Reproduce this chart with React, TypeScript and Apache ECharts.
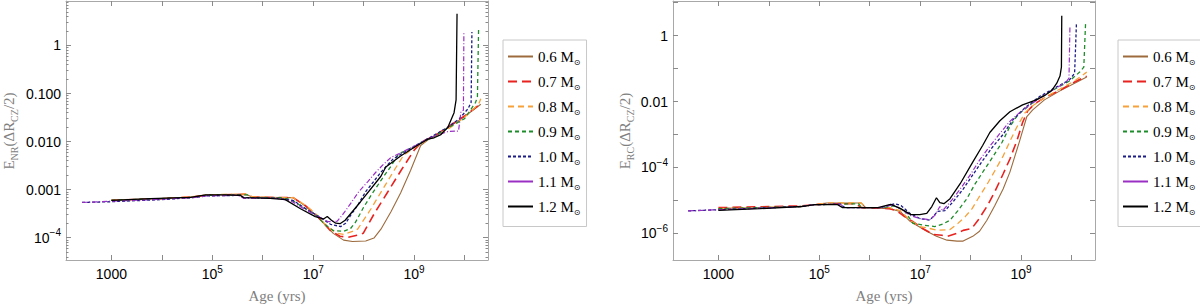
import React, { useEffect, useRef } from 'react';
import * as echarts from 'echarts';

// ---------- data (age in years, E value) ----------
const NAMES = ['0.6 M⊙', '0.7 M⊙', '0.8 M⊙', '0.9 M⊙', '1.0 M⊙', '1.1 M⊙', '1.2 M⊙'];

// Left panel: E_NR
const NR_06 = [[1000,6.0e-4],[1e4,6.5e-4],[4e4,7.0e-4],[7.9e4,7.7e-4],[4.5e5,8.0e-4],[6.3e5,7.0e-4],[2.2e6,6.8e-4],[4e6,6.8e-4],[7.1e6,4.5e-4],[1.1e7,3.0e-4],[2.5e7,1.23e-4],[4e7,8.9e-5],[6e7,8.3e-5],[1.1e8,8.5e-5],[1.6e8,9.8e-5],[2.2e8,1.5e-4],[3.5e8,3.5e-4],[5.4e8,8.5e-4],[8.5e8,2.5e-3],[1.35e9,8.3e-3],[1.95e9,1.12e-2],[2.5e9,1.25e-2],[1e10,3.3e-2],[2.1e10,6.0e-2]];
const NR_07 = [[1000,6.0e-4],[1e4,6.5e-4],[4e4,7.0e-4],[7.9e4,7.7e-4],[4.5e5,8.0e-4],[6.3e5,7.0e-4],[2.2e6,6.8e-4],[4e6,6.8e-4],[7.1e6,4.6e-4],[1.1e7,3.1e-4],[2.2e7,1.4e-4],[3.4e7,1.07e-4],[4.9e7,1.02e-4],[7.4e7,1.12e-4],[9.8e7,1.23e-4],[1.66e8,3.3e-4],[3e8,8.9e-4],[5.5e8,2.5e-3],[1e9,6.6e-3],[1.45e9,1.0e-2],[2.5e9,1.3e-2],[1e10,3.4e-2],[2.1e10,6.2e-2]];
const NR_08 = [[1000,6.0e-4],[1e4,6.5e-4],[4e4,7.1e-4],[7.9e4,7.8e-4],[4.5e5,8.1e-4],[6.3e5,7.1e-4],[2.2e6,6.8e-4],[4e6,6.8e-4],[7.1e6,4.7e-4],[1.1e7,3.2e-4],[1.95e7,1.65e-4],[3e7,1.23e-4],[4e7,1.17e-4],[6e7,1.35e-4],[7.6e7,1.5e-4],[1.4e8,4.0e-4],[2.5e8,1.1e-3],[4e8,2.5e-3],[6.2e8,5.2e-3],[1.1e9,7.9e-3],[2.5e9,1.3e-2],[5e9,1.9e-2],[1e10,3.2e-2],[1.9e10,6.0e-2],[2.1e10,7.8e-2]];
const NR_09 = [[1000,6.0e-4],[1e4,6.5e-4],[4e4,6.9e-4],[7.9e4,7.6e-4],[5e5,7.8e-4],[5.6e5,6.8e-4],[2.2e6,6.8e-4],[3.5e6,6.3e-4],[7.1e6,4.0e-4],[1.26e7,2.75e-4],[1.6e7,2.0e-4],[2.5e7,1.4e-4],[4e7,1.35e-4],[5.5e7,1.55e-4],[6.9e7,2.1e-4],[1e8,4.3e-4],[1.5e8,8.5e-4],[2.3e8,1.66e-3],[3.5e8,3.1e-3],[4.9e8,5.5e-3],[1.07e9,8.1e-3],[2.5e9,1.3e-2],[5e9,2.0e-2],[1e10,3.0e-2],[1.65e10,6.5e-2],[1.8e10,8.5e-2],[1.9e10,2.3]];
const NR_10 = [[263,5.4e-4],[1000,5.6e-4],[1e4,6.2e-4],[4e4,6.8e-4],[7.9e4,7.4e-4],[3.5e5,7.6e-4],[4.2e5,6.8e-4],[2e6,6.6e-4],[4.1e6,5.9e-4],[7.1e6,4.0e-4],[1.26e7,2.8e-4],[2.2e7,1.9e-4],[3.5e7,1.7e-4],[4.4e7,2.0e-4],[5.5e7,2.9e-4],[7.6e7,4.7e-4],[1.1e8,9.1e-4],[1.6e8,1.5e-3],[2.2e8,2.3e-3],[3.8e8,4.3e-3],[5.4e8,5.4e-3],[1.07e9,8.3e-3],[2.45e9,1.35e-2],[4.7e9,2.0e-2],[7.9e9,3.0e-2],[1.17e10,4.8e-2],[1.35e10,6.5e-2],[1.4e10,1.9]];
const NR_11 = [[263,5.4e-4],[1000,5.75e-4],[1e4,6.3e-4],[4e4,6.8e-4],[7.9e4,7.4e-4],[3.2e5,7.6e-4],[4.2e5,6.6e-4],[2e6,6.6e-4],[3.5e6,5.9e-4],[7.1e6,3.8e-4],[1.26e7,2.75e-4],[2e7,2.15e-4],[3e7,2.2e-4],[4e7,3.2e-4],[5.5e7,5.1e-4],[7.9e7,8.9e-4],[1.2e8,1.45e-3],[1.74e8,2.3e-3],[2.5e8,3.4e-3],[3.5e8,4.7e-3],[5.4e8,5.8e-3],[1.07e9,8.3e-3],[2.45e9,1.29e-2],[4.7e9,1.62e-2],[7.6e9,1.66e-2],[8.5e9,4.2e-2],[9.5e9,4.5e-2],[9.7e9,1.95]];
const NR_12 = [[1000,6.0e-4],[5900,6.5e-4],[3.7e4,6.9e-4],[7.4e4,7.8e-4],[1.8e5,7.8e-4],[3.6e5,7.6e-4],[4.2e5,6.8e-4],[1.4e6,6.6e-4],[2.8e6,6.2e-4],[5.6e6,4.0e-4],[1.1e7,2.75e-4],[1.6e7,2.45e-4],[1.9e7,2.75e-4],[2.3e7,2.3e-4],[2.8e7,2.0e-4],[3.4e7,1.95e-4],[4.3e7,2.3e-4],[8.7e7,5.6e-4],[2.2e8,1.9e-3],[2.75e8,2.95e-3],[5.4e8,5.0e-3],[1.07e9,7.9e-3],[1.86e9,1.12e-2],[2.5e9,1.2e-2],[3.4e9,1.4e-2],[4.7e9,2.0e-2],[6.2e9,4.0e-2],[6.8e9,7.4e-2],[7.1e9,4.6]];

// Right panel: E_RC
const RC_06 = [[1000,5.6e-6],[4.4e4,6.5e-6],[1.4e5,8.3e-6],[6.8e5,8.3e-6],[8.3e5,6.0e-6],[2.5e6,5.6e-6],[4e6,4.6e-6],[6.3e6,2.3e-6],[8.5e6,1.75e-6],[1.35e7,1.15e-6],[2.1e7,8.1e-7],[3.4e7,6.2e-7],[5.4e7,5.8e-7],[7.1e7,5.8e-7],[1.1e8,8.1e-7],[1.5e8,1.15e-6],[2.1e8,2.5e-6],[3e8,6.9e-6],[4.4e8,2.2e-5],[6e8,7.2e-5],[9.3e8,6.2e-4],[1.3e9,3.5e-3],[1.7e9,5.6e-3],[2.9e9,1.12e-2],[5.9e9,2.1e-2],[1.15e10,3.6e-2],[2e10,5.5e-2]];
const RC_07 = [[1000,6.0e-6],[4.4e4,6.8e-6],[1.4e5,7.9e-6],[5.1e5,7.9e-6],[6.9e5,6.0e-6],[2.5e6,5.6e-6],[3.6e6,4.6e-6],[4.9e6,3.2e-6],[7.1e6,2.3e-6],[1.12e7,1.4e-6],[1.8e7,9.3e-7],[2.7e7,8.7e-7],[3.5e7,8.1e-7],[5.4e7,1.0e-6],[7.1e7,1.23e-6],[1.05e8,1.4e-6],[1.4e8,2.5e-6],[2.1e8,6.5e-6],[3e8,1.8e-5],[4.4e8,6.3e-5],[6e8,1.8e-4],[8.3e8,6.6e-4],[1.07e9,2.3e-3],[1.35e9,5.2e-3],[1.86e9,8.5e-3],[2.9e9,1.3e-2],[5.9e9,2.2e-2],[1.15e10,3.9e-2],[2e10,5.9e-2]];
const RC_08 = [[1000,5.6e-6],[4.4e4,6.5e-6],[1.4e5,8.3e-6],[6.8e5,8.3e-6],[8.3e5,6.0e-6],[2.5e6,6.0e-6],[4e6,4.9e-6],[6.3e6,2.5e-6],[9.8e6,1.6e-6],[1.55e7,1.4e-6],[2.2e7,1.23e-6],[3.9e7,1.3e-6],[5.6e7,2.0e-6],[7.8e7,3.2e-6],[1.07e8,5.6e-6],[1.4e8,1.12e-5],[2.1e8,3.0e-5],[3e8,7.8e-5],[4.4e8,2.2e-4],[6e8,6.2e-4],[8.1e8,1.6e-3],[1.2e9,4.6e-3],[1.7e9,7.4e-3],[2.9e9,1.3e-2],[5.9e9,2.4e-2],[1.15e10,4.2e-2],[2e10,7.8e-2]];
const RC_09 = [[1000,5.6e-6],[4.4e4,6.5e-6],[8.1e4,7.4e-6],[6e5,7.9e-6],[6.9e5,6.0e-6],[1.8e6,6.0e-6],[3.2e6,6.9e-6],[5e6,4.6e-6],[7.2e6,2.0e-6],[1.23e7,1.75e-6],[1.95e7,1.6e-6],[2.8e7,1.9e-6],[3.9e7,2.5e-6],[5.6e7,4.9e-6],[8.4e7,1.12e-5],[1.2e8,3.0e-5],[1.8e8,7.8e-5],[2.7e8,2.0e-4],[4.2e8,5.8e-4],[6e8,1.74e-3],[8.7e8,4.0e-3],[1.35e9,6.9e-3],[2.3e9,1.3e-2],[4.7e9,2.4e-2],[9.1e9,4.2e-2],[1.45e10,7.8e-2],[1.75e10,0.11],[1.9e10,2.5]];
const RC_10 = [[251,4.8e-6],[1000,5.2e-6],[4.4e4,6.5e-6],[8.1e4,7.4e-6],[2.6e5,7.7e-6],[3.2e5,6.0e-6],[1.6e6,6.0e-6],[3.2e6,7.9e-6],[4.2e6,6.9e-6],[6.3e6,4.0e-6],[9.8e6,2.8e-6],[1.55e7,2.5e-6],[1.8e7,3.2e-6],[2.2e7,4.6e-6],[3.1e7,4.9e-6],[4.5e7,9.1e-6],[7.1e7,2.2e-5],[1.1e8,5.9e-5],[1.7e8,1.55e-4],[2.7e8,4.1e-4],[4.4e8,1.0e-3],[6.9e8,2.8e-3],[1.2e9,6.5e-3],[2.3e9,1.4e-2],[4.7e9,2.6e-2],[9.1e9,4.5e-2],[1.15e10,7.2e-2],[1.25e10,2.3]];
const RC_11 = [[251,4.8e-6],[1000,5.2e-6],[4.4e4,6.5e-6],[8.1e4,7.4e-6],[2.6e5,7.7e-6],[3.2e5,6.0e-6],[1.6e6,6.0e-6],[2.9e6,7.4e-6],[4e6,5.6e-6],[6.3e6,3.5e-6],[9.8e6,2.8e-6],[1.55e7,2.6e-6],[1.95e7,3.5e-6],[2.45e7,6.5e-6],[2.8e7,4.9e-6],[4.3e7,1.05e-5],[6.2e7,2.2e-5],[9.8e7,5.9e-5],[1.5e8,1.66e-4],[2.4e8,4.4e-4],[3.8e8,1.07e-3],[6e8,2.5e-3],[9.3e8,4.6e-3],[1.5e9,7.9e-3],[2.95e9,1.6e-2],[5.9e9,3.0e-2],[7.8e9,3.9e-2],[8.9e9,5.1e-2],[9.3e9,2.0]];
const RC_12 = [[1000,5.0e-6],[6700,5.6e-6],[4.4e4,6.5e-6],[8.1e4,7.4e-6],[2.3e5,7.4e-6],[2.9e5,6.0e-6],[1.45e6,6.0e-6],[2.6e6,7.6e-6],[4.1e6,5.6e-6],[6.5e6,3.7e-6],[9.8e6,3.7e-6],[1.35e7,4.0e-6],[1.7e7,6.5e-6],[2.1e7,1.2e-5],[2.45e7,8.5e-6],[2.95e7,7.9e-6],[3.9e7,1.12e-5],[6.2e7,3.2e-5],[1.1e8,1.45e-4],[1.74e8,4.7e-4],[2.4e8,1.15e-3],[3.8e8,2.6e-3],[6e8,4.9e-3],[1.07e9,7.9e-3],[2.0e9,1.12e-2],[2.9e9,1.5e-2],[4.1e9,2.2e-2],[5.1e9,3.6e-2],[5.9e9,5.9e-2],[6.3e9,0.11],[6.4e9,4.0]];

const NR_SERIES = [NR_06, NR_07, NR_08, NR_09, NR_10, NR_11, NR_12];
const RC_SERIES = [RC_06, RC_07, RC_08, RC_09, RC_10, RC_11, RC_12];

// axis ranges (log10 units) and tick exponents
const X_LOG_RANGE = [2.1, 10.465];
const NR_LOG_RANGE = [-4.465, 0.926];
const RC_LOG_RANGE = [-6.81, 1.05];
const X_TICK_EXP = [3, 4, 5, 6, 7, 8, 9, 10];
const X_LABEL_EXP = [3, 5, 7, 9];
const NR_TICK_EXP = [-4, -3, -2, -1, 0];
const RC_TICK_EXP = [-6, -5, -4, -3, -2, -1, 0, 1];
const RC_LABEL_EXP = [-6, -4, -2, 0];
const NR_PLAIN_LABELS: Record<number, string> = { 0: '1', [-1]: '0.100', [-2]: '0.010', [-3]: '0.001' };
const RC_PLAIN_LABELS: Record<number, string> = { 0: '1', [-2]: '0.01' };

// ---------- styles ----------
const COLORS = ['#9c6a3c', '#e8231f', '#f7a13a', '#1e8c2a', '#1c1c86', '#9a2fc4', '#000000'];
const DASHES: any[] = ['solid', [9, 5], [6, 4], [4, 3], [3, 2], [5, 2, 1, 2], 'solid'];
const WIDTHS = [1.1, 1.6, 1.3, 1.3, 1.3, 1.2, 1.3];
const FRAME = '#a8a8a8';
const TICK = '#8a8a8a';
const SANS = 'Liberation Sans';
const SERIF = 'Liberation Serif';

const minorTicks = (lo: number, hi: number) => {
  const out: number[] = [];
  for (let n = Math.floor(lo); n <= Math.ceil(hi); n++) {
    for (let k = 2; k <= 9; k++) {
      const v = n + Math.log10(k);
      if (v > lo && v < hi) out.push(v);
    }
  }
  return out;
};

const labelRich = {
  b: { fontSize: 14, fontFamily: SANS, color: '#000', lineHeight: 20 },
  s: { fontSize: 10, fontFamily: SANS, color: '#000', lineHeight: 11, verticalAlign: 'top' },
};

const expLabel = (e: number) => `{b|10}{s|${e < 0 ? '−' + -e : e}}`;

const toLog = (pts: number[][]) => pts.map(([a, v]) => [Math.log10(a), Math.log10(v)]);

function xAxes(grid: number) {
  const base = {
    type: 'value', gridIndex: grid, min: X_LOG_RANGE[0], max: X_LOG_RANGE[1],
    splitLine: { show: false },
    axisLine: { show: true, onZero: false, lineStyle: { color: FRAME, width: 1 } },
    axisTick: { show: true, inside: true, length: 5, customValues: X_TICK_EXP, lineStyle: { color: TICK } },
  };
  return [
    {
      ...base, position: 'bottom',
      axisLabel: {
        show: true, margin: 4, customValues: X_LABEL_EXP, rich: labelRich,
        formatter: (v: number) => { const e = Math.round(v); return e === 3 ? '{b|1000}' : expLabel(e); },
      },
      name: 'Age (yrs)', nameLocation: 'middle', nameGap: 28,
      nameTextStyle: { fontFamily: SERIF, fontSize: 15, color: '#808080' },
    },
    { ...base, position: 'top', axisLabel: { show: false } },
  ];
}

function yAxes(grid: number, range: number[], ticks: number[], labels: number[], plain: Record<number, string>, minor: boolean) {
  const base = {
    type: 'value', gridIndex: grid, min: range[0], max: range[1],
    splitLine: { show: false },
  };
  const out: any[] = [];
  for (const pos of ['left', 'right']) {
    out.push({
      ...base, position: pos,
      axisLine: { show: true, onZero: false, lineStyle: { color: FRAME, width: 1 } },
      axisTick: { show: true, inside: true, length: 5, customValues: ticks, lineStyle: { color: TICK } },
      axisLabel: pos === 'left' ? {
        show: true, margin: 5, customValues: labels, rich: labelRich,
        formatter: (v: number) => { const e = Math.round(v); return plain[e] !== undefined ? `{b|${plain[e]}}` : expLabel(e); },
      } : { show: false },
    });
    if (minor) {
      out.push({
        ...base, position: pos,
        axisLine: { show: false, onZero: false },
        axisTick: { show: true, inside: true, length: 2.5, customValues: minorTicks(range[0], range[1]), lineStyle: { color: TICK } },
        axisLabel: { show: false },
      });
    }
  }
  return out;
}

function makeSeries(list: number[][][], xi: number, yi: number) {
  return list.map((pts, i) => ({
    type: 'line', name: NAMES[i], data: toLog(pts), xAxisIndex: xi, yAxisIndex: yi,
    symbol: 'none', showSymbol: false, silent: true, clip: true,
    lineStyle: { color: COLORS[i], width: WIDTHS[i], type: DASHES[i] },
    itemStyle: { color: COLORS[i] },
    z: 2 + i,
  }));
}

function legendAt(left: number, top: number) {
  return {
    orient: 'vertical', left, top,
    data: NAMES.map((n, i) => (i === 5 ? { name: n, lineStyle: { type: 'solid' } } : n)),
    itemWidth: 25, itemHeight: 14, itemGap: 7.5,
    padding: [9, 6, 10, 4],
    borderColor: '#c8c8c8', borderWidth: 1,
    selectedMode: false,
    itemStyle: { opacity: 0 },
    formatter: (n: string) => `{t|${n.replace(' M⊙', '')} M}{s|⊙}`,
    textStyle: {
      rich: {
        t: { fontFamily: SERIF, fontSize: 15, color: '#000', lineHeight: 20 },
        s: { fontFamily: 'DejaVu Sans', fontSize: 8, color: '#000', lineHeight: 10, verticalAlign: 'bottom' },
      },
    },
  };
}

function yTitle(x: number, sub1: string) {
  return {
    type: 'text', x, y: 131, rotation: Math.PI / 2,
    style: {
      text: `{m|E}{d|${sub1}}{m|(ΔR}{d|CZ}{m|/2)}`,
      align: 'center', verticalAlign: 'middle',
      rich: {
        m: { fontFamily: SERIF, fontSize: 15, fill: '#808080', color: '#808080', lineHeight: 20 },
        d: { fontFamily: SERIF, fontSize: 10, fill: '#808080', color: '#808080', lineHeight: 10, verticalAlign: 'bottom' },
      },
    },
  };
}

export default function App() {
  const ref = useRef<HTMLDivElement>(null);
  useEffect(() => {
    if (!ref.current) return;
    const chart = echarts.init(ref.current, undefined, { renderer: 'svg' });
    const option: any = {
      animation: false,
      backgroundColor: '#ffffff',
      grid: [
        { left: 66, top: 1, width: 422, height: 261 },
        { left: 673, top: 1, width: 422, height: 261 },
      ],
      xAxis: [...xAxes(0), ...xAxes(1)],
      yAxis: [
        ...yAxes(0, NR_LOG_RANGE, NR_TICK_EXP, NR_TICK_EXP, NR_PLAIN_LABELS, true),
        ...yAxes(1, RC_LOG_RANGE, RC_TICK_EXP, RC_LABEL_EXP, RC_PLAIN_LABELS, false),
      ],
      legend: [legendAt(503, 40), legendAt(1118, 40)],
      series: [...makeSeries(NR_SERIES, 0, 0), ...makeSeries(RC_SERIES, 2, 4)],
      graphic: [yTitle(9, 'NR'), yTitle(625, 'RC')],
    };
    chart.setOption(option);
    return () => chart.dispose();
  }, []);
  return <div ref={ref} style={{ position: 'fixed', left: 0, top: 0, width: 1200, height: 308 }} />;
}
